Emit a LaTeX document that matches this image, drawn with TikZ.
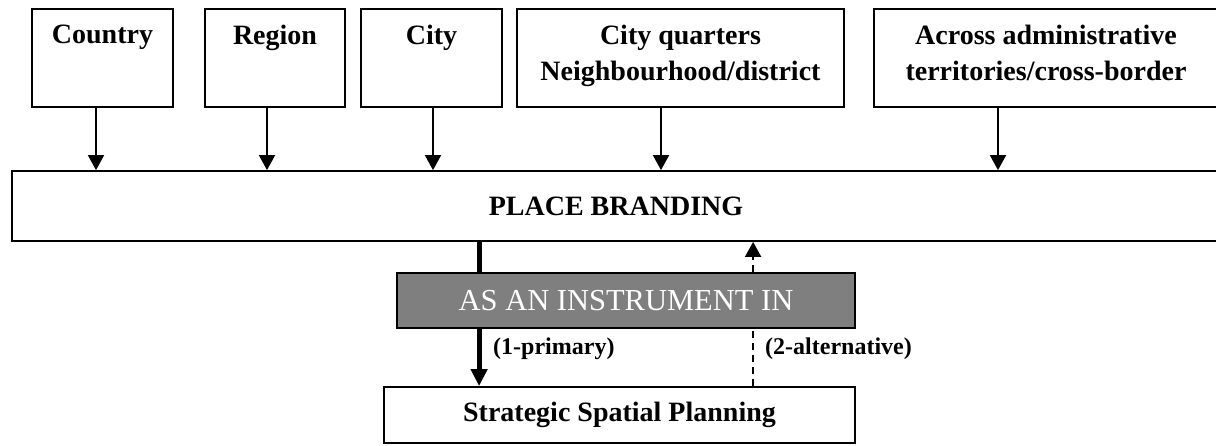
\documentclass[tikz,border=0pt]{standalone}
\usepackage{fontspec}
\setmainfont{Liberation Serif}
\usetikzlibrary{arrows.meta,calc}
\definecolor{instrgray}{RGB}{127,127,127}
\begin{document}
\begin{tikzpicture}[x=1pt,y=-1pt,
  box/.style={draw=black, line width=1.8pt, rectangle, inner sep=0pt},
  toplbl/.style={anchor=north, inner sep=0pt, align=center,
    font=\fontsize{28}{36}\selectfont\bfseries},
  midlbl/.style={font=\fontsize{28}{30}\selectfont\bfseries},
  flowlbl/.style={anchor=west, inner sep=0pt,
    font=\fontsize{24}{26}\selectfont\bfseries},
  arr/.style={line width=1.8pt, -{Triangle[width=16pt,length=15pt]}},
  thickarr/.style={line width=5pt, -{Triangle[width=16pt,length=17pt]}},
  thickline/.style={line width=5pt},
  dasharr/.style={line width=1.8pt, dash pattern=on 7pt off 5pt,
    -{Triangle[width=16pt,length=15pt]}},
  dashline/.style={line width=1.8pt, dash pattern=on 7pt off 5pt}]
\useasboundingbox (0,0) rectangle (1216,445);
\fill[white] (0,0) rectangle (1216,445);

% territorial levels
\node[box, minimum width=141pt, minimum height=98pt] (country) at (102.5,58) {};
\node[box, minimum width=140pt, minimum height=98pt] (region)  at (275,58) {};
\node[box, minimum width=141pt, minimum height=98pt] (city)    at (431.5,58) {};
\node[box, minimum width=327pt, minimum height=98pt] (quarter) at (680.5,58) {};
\node[box, minimum width=344pt, minimum height=98pt] (across)  at (1046,58) {};

\node[toplbl] at ([yshift=-17pt]country.north) {Country};
\node[toplbl] at ([yshift=-17pt]region.north) {Region};
\node[toplbl] at ([yshift=-17pt]city.north) {City};
\node[toplbl] at ([yshift=-17pt]quarter.north) {City quarters\\Neighbourhood/district};
\node[toplbl] at ([yshift=-17pt]across.north) {Across administrative\\territories/cross-border};

% place branding bar
\node[box, minimum width=1208pt, minimum height=70pt, midlbl] (pb) at (616,206) {PLACE BRANDING};

% instrument bar and planning box
\node[box, fill=instrgray, minimum width=458pt, minimum height=55pt,
  text=white, font=\fontsize{30.5}{32}\selectfont] (instr) at (626,300.5) {AS AN INSTRUMENT IN};
\node[box, minimum width=471pt, minimum height=56pt, midlbl] (ssp) at (619.5,415) {Strategic Spatial Planning};

% arrows from the levels into place branding
\draw[arr] ([xshift=-6.5pt]country.south) -- ([xshift=-6.5pt]country.south |- pb.north);
\draw[arr] ([xshift=-8pt]region.south) -- ([xshift=-8pt]region.south |- pb.north);
\draw[arr] ([xshift=1.5pt]city.south) -- ([xshift=1.5pt]city.south |- pb.north);
\draw[arr] ([xshift=-19.5pt]quarter.south) -- ([xshift=-19.5pt]quarter.south |- pb.north);
\draw[arr] ([xshift=-48pt]across.south) -- ([xshift=-48pt]across.south |- pb.north);

% primary route (solid) and alternative route (dashed)
\coordinate (prim) at ([xshift=83pt]instr.north west);
\coordinate (alt) at ([xshift=357pt]instr.north west);
\draw[thickline] (prim |- pb.south) -- (prim |- instr.north);
\draw[thickarr] (prim |- instr.south) -- (prim |- ssp.north);
\draw[dashline] (alt |- ssp.north) -- (alt |- instr.south);
\draw[dasharr] (alt |- instr.north) -- (alt |- pb.south);

\node[flowlbl] (l1) at (493,349) {(1-primary)};
\node[flowlbl] (l2) at (765,349) {(2-alternative)};
\end{tikzpicture}
\end{document}
